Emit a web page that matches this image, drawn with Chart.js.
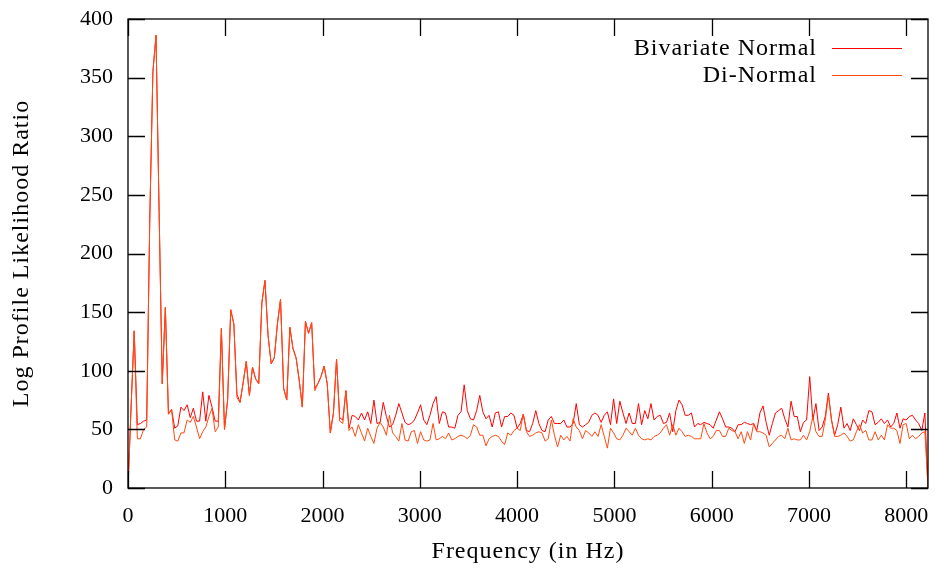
<!DOCTYPE html>
<html>
<head>
<meta charset="utf-8">
<script src="https://cdn.jsdelivr.net/npm/chart.js@4/dist/chart.umd.min.js"></script>
<style>
  html, body { margin: 0; padding: 0; background: #fff; }
  canvas { display: block; }
</style>
</head>
<body>
<canvas id="plot" width="945" height="573"></canvas>
<script>
// spectrum bins are 32 Hz apart, 258 bins (0 .. 8224 Hz)
const BIN_HZ = 32;

// Bivariate Normal, log profile likelihood ratio per bin
const bivariateNormal = [
  0, 70, 134, 54, 55, 57, 58, 230, 355, 386,
  235, 89, 154, 63, 67, 51, 53, 69, 66, 71,
  60, 68, 57, 57, 82, 57, 79, 69, 57, 57,
  136, 50, 75, 152, 140, 80, 73, 90, 108, 79,
  103, 93, 89, 158, 177, 130, 106, 111, 140, 161,
  85, 75, 137, 119, 111, 92, 69, 142, 132, 141,
  85, 89, 95, 104, 89, 47, 64, 110, 60, 58,
  83, 51, 62, 61, 58, 64, 58, 65, 55, 75,
  55, 56, 73, 61, 52, 54, 62, 72, 64, 56,
  54, 55, 58, 64, 71, 58, 54, 62, 72, 78,
  55, 65, 64, 52, 52, 51, 62, 65, 88, 66,
  59, 58, 66, 79, 65, 59, 62, 52, 64, 65,
  52, 61, 61, 64, 62, 51, 55, 63, 49, 48,
  55, 66, 55, 49, 48, 58, 61, 55, 55, 55,
  58, 52, 52, 55, 72, 54, 52, 54, 56, 62,
  64, 62, 56, 62, 65, 54, 76, 55, 74, 64,
  55, 64, 55, 55, 72, 54, 66, 59, 72, 58,
  61, 62, 55, 56, 64, 48, 66, 75, 71, 62,
  62, 64, 52, 55, 54, 56, 55, 54, 51, 58,
  65, 59, 52, 52, 51, 48, 54, 54, 56, 55,
  54, 55, 49, 64, 70, 56, 45, 55, 64, 66,
  68, 59, 52, 74, 61, 61, 48, 56, 58, 95,
  58, 72, 49, 52, 61, 81, 58, 45, 54, 69,
  51, 55, 49, 59, 54, 49, 58, 55, 66, 65,
  54, 56, 59, 55, 58, 52, 55, 64, 51, 59,
  58, 61, 62, 58, 55, 49, 64, 0
];

// Di-Normal
const diNormal = [
  0, 70, 134, 42, 42, 50, 52, 230, 355, 386,
  235, 89, 154, 63, 67, 41, 40, 47, 47, 58,
  56, 61, 52, 42, 48, 52, 61, 68, 48, 52,
  136, 50, 75, 152, 140, 77, 73, 90, 108, 79,
  103, 93, 89, 158, 177, 130, 106, 111, 140, 161,
  85, 75, 137, 119, 111, 92, 69, 142, 132, 141,
  83, 89, 95, 104, 89, 47, 64, 110, 57, 55,
  83, 49, 52, 44, 54, 47, 40, 51, 44, 38,
  51, 56, 52, 45, 62, 47, 44, 40, 55, 41,
  40, 48, 49, 38, 48, 41, 40, 41, 55, 41,
  42, 44, 42, 47, 41, 42, 44, 45, 44, 42,
  45, 54, 52, 45, 45, 36, 42, 44, 45, 44,
  40, 37, 47, 45, 49, 51, 49, 63, 48, 44,
  45, 47, 48, 47, 40, 42, 58, 45, 35, 45,
  41, 44, 40, 59, 52, 49, 42, 49, 47, 44,
  48, 44, 54, 44, 34, 51, 47, 42, 41, 45,
  51, 48, 45, 51, 45, 42, 41, 42, 41, 44,
  45, 47, 51, 54, 45, 54, 45, 51, 48, 44,
  45, 44, 42, 42, 42, 55, 47, 42, 44, 49,
  49, 44, 44, 51, 49, 48, 42, 48, 38, 48,
  41, 55, 48, 48, 47, 45, 35, 38, 41, 44,
  45, 42, 51, 41, 42, 41, 41, 45, 41, 48,
  61, 48, 44, 44, 58, 79, 58, 44, 44, 45,
  47, 44, 40, 41, 48, 54, 47, 49, 41, 41,
  48, 41, 45, 41, 54, 51, 51, 49, 38, 54,
  55, 42, 45, 42, 44, 47, 48, 0
];

const xTicks = [0, 1000, 2000, 3000, 4000, 5000, 6000, 7000, 8000];
const yTicks = [0, 50, 100, 150, 200, 250, 300, 350, 400];
const xTitle = "Frequency (in Hz)";
const yTitle = "Log Profile Likelihood Ratio";

const FONT = "'Liberation Serif', 'Times New Roman', serif";
const TEXT_FONT = "24px " + FONT;
const RED = "#ff0000";
const ORANGE = "#ff4a12";

const toPoints = (arr) => arr.map((v, i) => ({ x: i * BIN_HZ, y: v }));

// gnuplot style frame: full border, ticks pointing inward on all four sides
const framePlugin = {
  id: "frame",
  afterDraw(chart) {
    const { ctx, chartArea: a, scales } = chart;
    const len = 17;
    ctx.save();
    ctx.strokeStyle = "#000";
    ctx.lineWidth = 1.3;
    ctx.beginPath();
    scales.x.ticks.forEach((t) => {
      const px = Math.round(scales.x.getPixelForValue(t.value)) + 0.5;
      ctx.moveTo(px, a.bottom); ctx.lineTo(px, a.bottom - len);
      ctx.moveTo(px, a.top); ctx.lineTo(px, a.top + len);
    });
    scales.y.ticks.forEach((t) => {
      const py = Math.round(scales.y.getPixelForValue(t.value)) + 0.5;
      ctx.moveTo(a.left, py); ctx.lineTo(a.left + len, py);
      ctx.moveTo(a.right, py); ctx.lineTo(a.right - len, py);
    });
    ctx.stroke();
    ctx.strokeRect(a.left, a.top, a.right - a.left, a.bottom - a.top);
    ctx.restore();
  }
};

// axis titles and the key, drawn with a little letter spacing so the
// Times-like font comes closer to the wide Computer Modern of the original
const textPlugin = {
  id: "texts",
  afterDraw(chart) {
    const { ctx, chartArea: a } = chart;
    ctx.save();
    ctx.font = TEXT_FONT;
    if ("letterSpacing" in ctx) ctx.letterSpacing = "1px";
    ctx.fillStyle = "#000";
    ctx.textBaseline = "middle";

    ctx.textAlign = "center";
    ctx.fillText(xTitle, (a.left + a.right) / 2, 552);

    ctx.save();
    ctx.translate(22, (a.top + a.bottom) / 2);
    ctx.rotate(-Math.PI / 2);
    ctx.fillText(yTitle, 0, 0);
    ctx.restore();

    const entries = [
      { text: "Bivariate Normal", color: RED, y: 48 },
      { text: "Di-Normal", color: ORANGE, y: 75 }
    ];
    ctx.textAlign = "right";
    entries.forEach((e) => {
      ctx.fillStyle = "#000";
      ctx.fillText(e.text, 817, e.y + 1);
      ctx.strokeStyle = e.color;
      ctx.lineWidth = 1;
      ctx.beginPath();
      ctx.moveTo(832, e.y + 0.5);
      ctx.lineTo(902, e.y + 0.5);
      ctx.stroke();
    });
    ctx.restore();
  }
};

new Chart(document.getElementById("plot").getContext("2d"), {
  type: "line",
  data: {
    datasets: [
      // first dataset is painted last, so Di-Normal sits on top
      {
        label: "Di-Normal",
        data: toPoints(diNormal),
        borderColor: ORANGE,
        borderWidth: 1,
        pointRadius: 0,
        tension: 0,
        fill: false
      },
      {
        label: "Bivariate Normal",
        data: toPoints(bivariateNormal),
        borderColor: RED,
        borderWidth: 1,
        pointRadius: 0,
        tension: 0,
        fill: false
      }
    ]
  },
  options: {
    responsive: false,
    animation: false,
    events: [],
    layout: { padding: { top: 19, right: 17, left: 0, bottom: 0 } },
    plugins: {
      legend: { display: false },
      tooltip: { enabled: false }
    },
    scales: {
      x: {
        type: "linear",
        min: 0,
        max: 8224,
        afterBuildTicks(scale) {
          scale.ticks = xTicks.map((v) => ({ value: v }));
        },
        afterFit(scale) {
          scale.height = 85;
          scale.paddingLeft = 0;
          scale.paddingRight = 0;
        },
        grid: { display: false, drawTicks: false },
        border: { display: false },
        ticks: {
          color: "#000",
          padding: 15,
          maxRotation: 0,
          font: { family: FONT, size: 22 },
          callback: (v) => String(v)
        }
      },
      y: {
        min: 0,
        max: 400,
        afterBuildTicks(scale) {
          scale.ticks = yTicks.map((v) => ({ value: v }));
        },
        afterFit(scale) {
          scale.width = 128;
          scale.paddingTop = 0;
          scale.paddingBottom = 0;
        },
        grid: { display: false, drawTicks: false },
        border: { display: false },
        ticks: {
          color: "#000",
          padding: 15,
          font: { family: FONT, size: 22 },
          callback: (v) => String(v)
        }
      }
    }
  },
  plugins: [framePlugin, textPlugin]
});
</script>
</body>
</html>
